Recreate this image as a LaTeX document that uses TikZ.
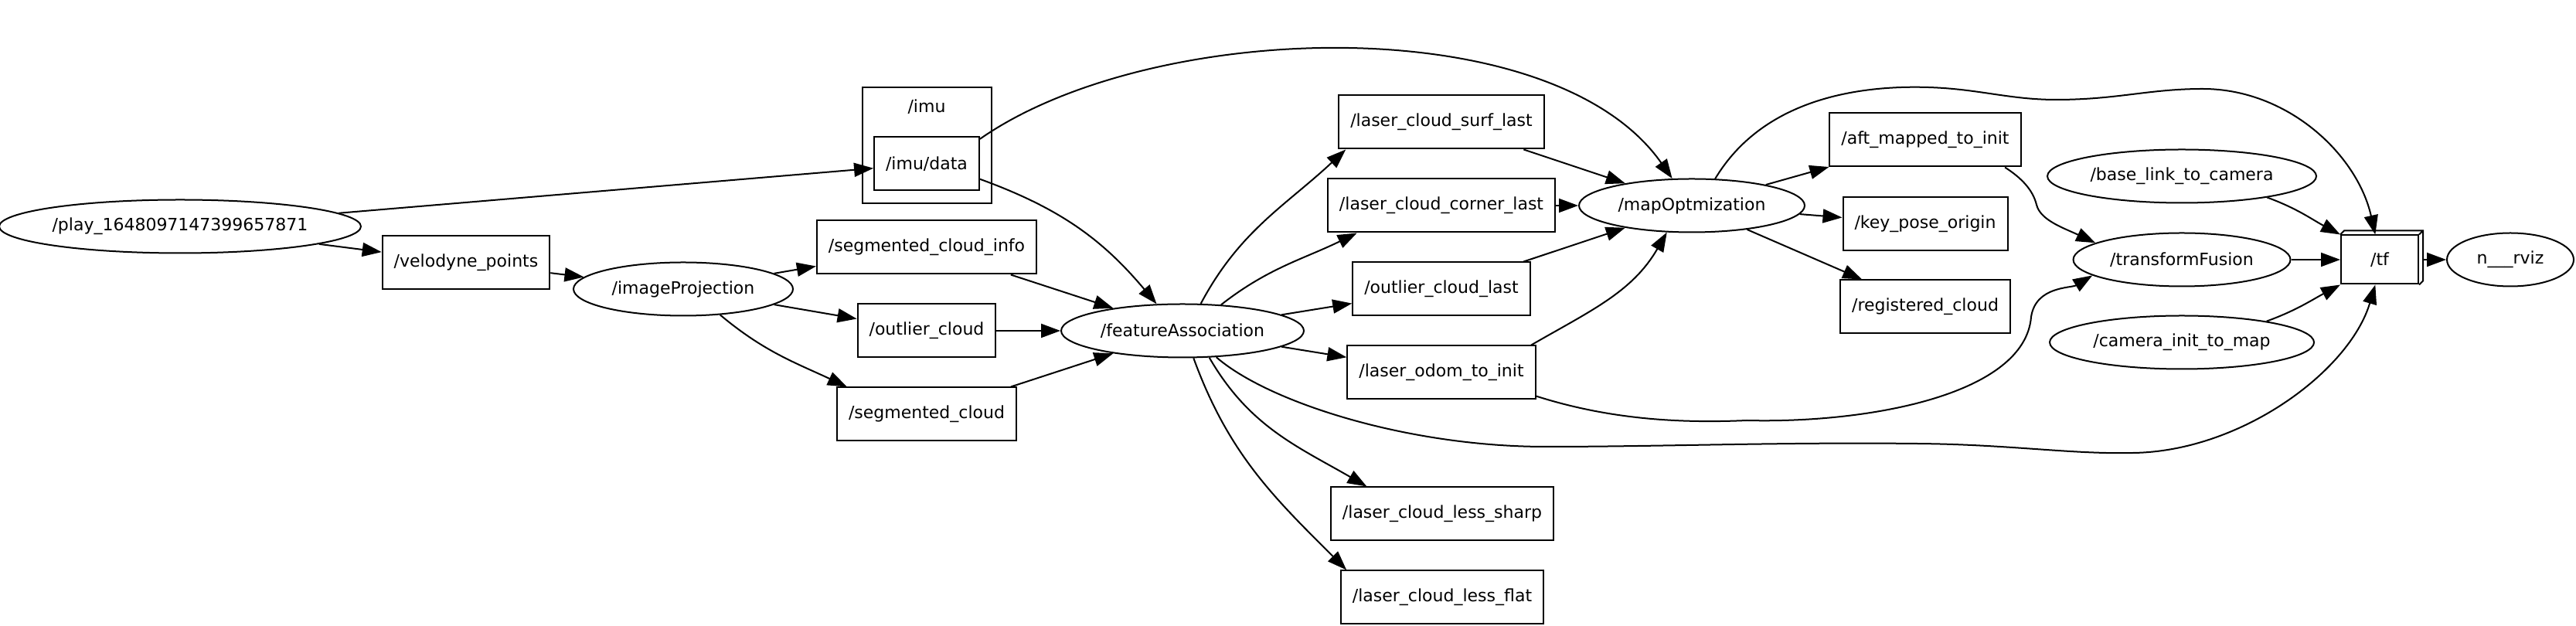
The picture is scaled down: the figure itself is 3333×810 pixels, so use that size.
\documentclass[tikz,border=0pt]{standalone}
\usepackage{fontspec}
\setmainfont{DejaVu Sans}
\usetikzlibrary{shapes.geometric, arrows.meta}

\begin{document}
\begin{tikzpicture}[x=1pt,y=1pt,
  font=\fontsize{22}{26}\selectfont,
  topic/.style={draw, line width=2pt, rectangle, minimum height=69pt, inner xsep=15pt},
  rosnode/.style={draw, line width=2pt, ellipse, minimum height=69pt, inner sep=0pt},
  conn/.style={line width=2pt, -{Triangle[length=25pt,width=18pt]}}]
\useasboundingbox (0,0) rectangle (3333,810);
\node[rosnode, minimum width=462pt] (play) at (233,517) {/play\_1648097147399657871};
\node[topic] (velodyne) at (603,470) {/velodyne\_points};
\node[rosnode, minimum width=284pt] (imgproj) at (884,436) {/imageProjection};
\node[draw, line width=2pt, minimum width=167pt, minimum height=150pt] (imugroup) at (1199.5,622) {};
\node (imulabel) at (1199,672) {/imu};
\node[topic] (imudata) at (1199,598) {/imu/data};
\node[topic] (segcloudinfo) at (1199,490) {/segmented\_cloud\_info};
\node[topic] (outliercloud) at (1199,382) {/outlier\_cloud};
\node[topic] (segcloud) at (1199,274) {/segmented\_cloud};
\node[rosnode, minimum width=314pt] (featassoc) at (1530,382) {/featureAssociation};
\node[topic] (surflast) at (1865,652) {/laser\_cloud\_surf\_last};
\node[topic] (cornerlast) at (1865,544) {/laser\_cloud\_corner\_last};
\node[topic] (outlierlast) at (1865,436) {/outlier\_cloud\_last};
\node[topic] (odominit) at (1865,328) {/laser\_odom\_to\_init};
\node[topic] (lesssharp) at (1866,145) {/laser\_cloud\_less\_sharp};
\node[topic] (lessflat) at (1866,37) {/laser\_cloud\_less\_flat};
\node[rosnode, minimum width=292pt] (mapopt) at (2189,544) {/mapOptmization};
\node[topic] (aftmapped) at (2491,629) {/aft\_mapped\_to\_init};
\node[topic] (keypose) at (2491,520) {/key\_pose\_origin};
\node[topic] (regcloud) at (2491,413) {/registered\_cloud};
\node[rosnode, minimum width=348pt] (baselink) at (2823,582) {/base\_link\_to\_camera};
\node[rosnode, minimum width=281pt] (tfusion) at (2823,474) {/transformFusion};
\node[rosnode, minimum width=342pt] (caminit) at (2823,367) {/camera\_init\_to\_map};
\node[topic, minimum width=100pt, minimum height=63pt] (tf) at (3079,474) {/tf};
\draw[line width=2pt] (tf.north west) -- ++(5,5) -- ([shift={(5,5)}]tf.north east) -- ([shift={(5,5)}]tf.south east) -- (tf.south east) (tf.north east) -- ++(5,5);
\node[rosnode, minimum width=164pt] (rviz) at (3248,474) {n\_\_\_rviz};

\draw[conn] (play) -- (imudata);
\draw[conn] (play) -- (velodyne);
\draw[conn] (velodyne) -- (imgproj);
\draw[conn] (imgproj) -- (segcloudinfo);
\draw[conn] (imgproj) -- (outliercloud);
\draw[conn] (imgproj.-35) to[out=-40,in=155] (segcloud.161);
\draw[conn] (imudata.-16) to[out=-20,in=130] (featassoc.134);
\draw[conn] (imudata.25) to[out=35,in=125,looseness=0.77] (mapopt.126);
\draw[conn] (segcloudinfo) -- (featassoc);
\draw[conn] (outliercloud) -- (featassoc);
\draw[conn] (segcloud) -- (featassoc);
\draw[conn] (featassoc.56) to[out=62,in=-137] (surflast.196);
\draw[conn] (featassoc.34) to[out=38,in=-154] (cornerlast.198);
\draw[conn] (featassoc) -- (outlierlast);
\draw[conn] (featassoc) -- (odominit);
\draw[conn] (featassoc.-45) to[out=-60,in=150] (lesssharp.160);
\draw[conn] (featassoc.-68) to[out=-70,in=135] (lessflat.164);
\draw[conn] (featassoc.-38) .. controls (1640,290) and (1820,232) .. (2000,232)
  .. controls (2150,232) and (2300,238) .. (2480,236)
  .. controls (2600,235) and (2680,222) .. (2760,224)
  .. controls (2900,226) and (3040,330) .. (tf.-100);
\draw[conn] (surflast) -- (mapopt);
\draw[conn] (cornerlast) -- (mapopt);
\draw[conn] (outlierlast) -- (mapopt);
\draw[conn] (odominit.17) to[out=30,in=-120] (mapopt.-133);
\draw[conn] (odominit.-14) .. controls (2080,268) and (2170,262) .. (2260,266)
  .. controls (2420,262) and (2620,300) .. (2628,400)
  .. controls (2634,440) and (2680,437) .. (tfusion.190);
\draw[conn] (mapopt) -- (aftmapped);
\draw[conn] (mapopt) -- (keypose);
\draw[conn] (mapopt) -- (regcloud);
\draw[conn] (mapopt.49) .. controls (2280,680) and (2400,700) .. (2495,697)
  .. controls (2560,695) and (2600,681) .. (2660,681)
  .. controls (2740,681) and (2780,695) .. (2850,695)
  .. controls (2960,695) and (3050,610) .. (tf.100);
\draw[conn] (aftmapped.-19) .. controls (2615,580) and (2630,565) .. (2635,545)
  .. controls (2640,525) and (2670,515) .. (tfusion.169);
\draw[conn] (baselink.-14) to[out=-20,in=152] (tf.north west);
\draw[conn] (tfusion) -- (tf);
\draw[conn] (caminit.14) to[out=20,in=-152] (tf.south west);
\draw[conn] ([xshift=5pt]tf.east) -- (rviz);
\end{tikzpicture}
\end{document}
